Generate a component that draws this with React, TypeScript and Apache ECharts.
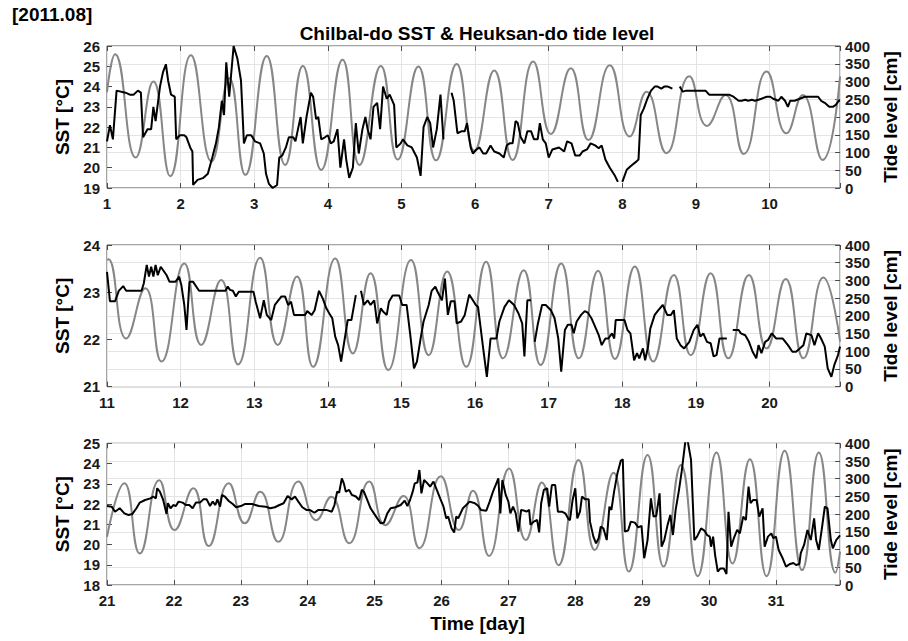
import React, { useEffect, useRef } from 'react';
import * as echarts from 'echarts';

type Pt = [number, number | null];

// ---------- axis ranges / ticks ----------
const dayMin = [1, 11, 21];
const dayMax = [10.958, 20.958, 31.958];
const sstMin = [19, 21, 18];
const sstMax = [26, 24, 25];
const tideMin = 0;
const tideMax = 400;
const tideStep = 50;

const headerText = '[2011.08]';
const titleText = 'Chilbal-do SST & Heuksan-do tide level';
const xName = 'Time [day]';
const sstName = 'SST [°C]';
const tideName = 'Tide level [cm]';

// ---------- Panel 1: days 1-11 ----------
const sst1: Pt[] = [
  [1.00, 21.3], [1.04, 22.1], [1.08, 21.4], [1.13, 23.8], [1.25, 23.7], [1.31, 23.6], [1.36, 23.6],
  [1.42, 23.8], [1.46, 23.7], [1.49, 21.5], [1.55, 21.9], [1.60, 21.9], [1.63, 23.0], [1.66, 22.3],
  [1.72, 24.0], [1.76, 24.7], [1.80, 25.1], [1.83, 24.3], [1.87, 23.6], [1.92, 23.5], [1.94, 21.4],
  [1.99, 21.6], [2.05, 21.6], [2.08, 21.5], [2.13, 21.0], [2.16, 20.8], [2.17, 19.15], [2.23, 19.4],
  [2.31, 19.5], [2.37, 19.7], [2.43, 20.5], [2.48, 21.2], [2.52, 22.0], [2.56, 23.3], [2.59, 22.6],
  [2.62, 25.2], [2.66, 23.5], [2.72, 26.0], [2.77, 25.4], [2.82, 24.3], [2.86, 21.2], [2.90, 21.6],
  [2.96, 21.6], [3.01, 21.3], [3.08, 21.2], [3.13, 20.7], [3.16, 19.7], [3.20, 19.2], [3.25, 19.0],
  [3.31, 19.15], [3.34, 20.5], [3.38, 20.6], [3.43, 21.0], [3.47, 21.5], [3.53, 21.5], [3.56, 21.3],
  [3.60, 22.0], [3.63, 22.5], [3.66, 21.2], [3.71, 22.5], [3.77, 23.7], [3.80, 23.5], [3.84, 22.4],
  [3.87, 22.5], [3.91, 21.4], [3.96, 21.5], [4.00, 21.6], [4.04, 21.2], [4.08, 21.3], [4.13, 21.9],
  [4.17, 20.0], [4.22, 21.4], [4.25, 20.4], [4.29, 19.5], [4.34, 20.0], [4.38, 22.2], [4.42, 20.7],
  [4.47, 21.9], [4.51, 22.5], [4.54, 21.9], [4.58, 21.4], [4.62, 23.0], [4.67, 23.2], [4.71, 21.9],
  [4.75, 24.0], [4.80, 23.4], [4.84, 23.6], [4.90, 23.1], [4.93, 21.0], [4.99, 21.2], [5.02, 21.4],
  [5.08, 21.1], [5.14, 21.0], [5.21, 20.5], [5.26, 19.6], [5.30, 22.0], [5.35, 22.5], [5.39, 22.2],
  [5.43, 21.0], [5.48, 21.9], [5.53, 23.6], [5.57, 21.4], [5.62, null], [5.68, 23.7], [5.71, 23.3],
  [5.76, 21.7], [5.82, 21.8], [5.86, 21.8], [5.89, 22.2], [5.94, 21.0], [5.97, 20.7], [6.02, 20.9],
  [6.06, 21.0], [6.11, 20.7], [6.15, 20.7], [6.21, 21.1], [6.26, 20.8], [6.33, 20.7], [6.39, 20.5],
  [6.43, 21.1], [6.47, 21.2], [6.51, 21.2], [6.55, 22.3], [6.58, 22.2], [6.62, 21.5], [6.67, 21.2],
  [6.71, 21.8], [6.76, 21.8], [6.80, 21.4], [6.85, 21.4], [6.88, 22.2], [6.92, 21.4], [6.96, 21.2],
  [7.00, 20.5], [7.05, 20.9], [7.14, 21.0], [7.21, 20.8], [7.25, 21.3], [7.31, 21.2], [7.36, 20.6],
  [7.42, 20.6], [7.46, 20.8], [7.52, 20.9], [7.57, 21.2], [7.63, 21.1], [7.68, 20.96], [7.72, 21.1],
  [7.77, 20.4], [7.83, 20.0], [7.90, 19.6], [7.94, 19.3], [7.97, null], [8.00, 19.3], [8.06, 19.9],
  [8.12, 20.1], [8.19, 20.3], [8.22, 20.4], [8.25, 22.6], [8.29, 22.9], [8.34, 23.4], [8.39, 23.8],
  [8.44, 24.0], [8.48, 24.0], [8.53, 23.9], [8.57, 24.0], [8.62, 24.0], [8.68, 23.9], [8.73, null],
  [8.78, 24.0], [8.82, 23.75], [8.87, 23.8], [8.93, 23.8], [9.07, 23.8], [9.13, 23.8], [9.18, 23.6],
  [9.38, 23.6], [9.45, 23.6], [9.51, 23.5], [9.58, 23.3], [9.62, 23.3], [9.67, 23.35], [9.71, 23.3],
  [9.76, 23.35], [9.80, 23.3], [9.85, 23.35], [9.89, 23.4], [9.96, 23.5], [10.01, 23.5], [10.05, 23.4],
  [10.12, 23.3], [10.16, 23.5], [10.21, 23.3], [10.25, 23.0], [10.28, 23.3], [10.34, 23.3],
  [10.41, 23.4], [10.48, 23.5], [10.52, 23.5], [10.59, 23.5], [10.66, 23.5], [10.70, 23.3],
  [10.75, 23.2], [10.81, 23.0], [10.86, 23.0], [10.90, 23.1], [10.94, 23.3], [10.958, 23.3],
];

const tide1: Pt[] = [
  [1.00, 270], [1.11, 377], [1.39, 86], [1.63, 300], [1.86, 33], [2.14, 374], [2.42, 75],
  [2.66, 309], [2.88, 37], [3.17, 372], [3.42, 65], [3.66, 344], [3.91, 51], [4.20, 361],
  [4.43, 65], [4.72, 344], [4.95, 80], [5.23, 342], [5.47, 78], [5.75, 349], [5.99, 105],
  [6.26, 331], [6.51, 79], [6.79, 356], [7.03, 152], [7.30, 337], [7.54, 135], [7.83, 346],
  [8.10, 145], [8.33, 271], [8.60, 98], [8.91, 315], [9.15, 175], [9.40, 262], [9.65, 96],
  [9.96, 328], [10.23, 154], [10.45, 262], [10.72, 79], [10.958, 314],
];

// ---------- Panel 2: days 11-21 ----------
const sst2: Pt[] = [
  [11.00, 23.43], [11.04, 22.81], [11.11, 22.81], [11.16, 23.03], [11.22, 23.13], [11.26, 23.03],
  [11.36, 23.03], [11.47, 23.03], [11.50, 23.19], [11.54, 23.58], [11.57, 23.33], [11.60, 23.54],
  [11.63, 23.33], [11.66, 23.58], [11.69, 23.36], [11.73, 23.54], [11.81, 23.36], [11.85, 23.22],
  [11.93, 23.22], [11.98, 23.33], [12.01, 23.15], [12.05, 22.73], [12.08, 22.20], [12.12, 23.22],
  [12.17, 23.22], [12.25, 23.03], [12.43, 23.03], [12.61, 23.03], [12.64, 23.12], [12.67, 23.05],
  [12.71, 23.03], [12.75, 22.91], [12.79, 23.01], [12.99, 23.01], [13.02, 22.80], [13.08, 22.45],
  [13.13, 22.83], [13.17, 22.52], [13.23, 22.41], [13.28, 22.73], [13.37, 22.91], [13.42, 22.91],
  [13.46, 22.73], [13.50, 22.80], [13.54, 22.52], [13.62, 22.52], [13.69, 22.52], [13.72, 22.60],
  [13.78, 22.52], [13.82, 22.62], [13.88, 23.03], [13.93, 22.87], [13.98, 22.66], [14.02, 22.55],
  [14.06, 22.45], [14.10, 22.06], [14.14, 21.88], [14.18, 21.53], [14.23, 22.02], [14.27, 22.41],
  [14.32, 22.41], [14.38, 22.94], [14.42, null], [14.45, 23.03], [14.49, 22.73], [14.54, 22.83],
  [14.58, 22.73], [14.63, 22.83], [14.67, 22.34], [14.72, 22.66], [14.75, 22.59], [14.80, 22.52],
  [14.83, 22.80], [14.88, 22.93], [14.97, 22.93], [15.01, 22.73], [15.07, 22.73], [15.12, 22.09],
  [15.17, 21.39], [15.21, 21.53], [15.26, 22.02], [15.30, 22.38], [15.37, 22.73], [15.41, 23.03],
  [15.46, 23.12], [15.49, 23.01], [15.55, 22.83], [15.59, 23.29], [15.63, 22.52], [15.67, 22.81],
  [15.72, 22.81], [15.75, 22.34], [15.81, 22.38], [15.86, 22.52], [15.92, 22.95], [15.97, 22.83],
  [16.01, 22.73], [16.04, 22.69], [16.11, 21.81], [16.16, 21.21], [16.21, 22.02], [16.29, 22.02],
  [16.33, 22.38], [16.40, 22.69], [16.46, 22.83], [16.53, 22.73], [16.59, 22.55], [16.64, 22.34],
  [16.67, 21.64], [16.71, 22.83], [16.76, 22.83], [16.78, null], [16.81, 21.95], [16.85, 22.31],
  [16.91, 22.73], [16.96, 22.73], [17.03, 22.62], [17.08, 22.45], [17.13, 22.02], [17.17, 21.32],
  [17.22, 22.20], [17.26, 22.31], [17.31, 22.31], [17.34, 22.13], [17.38, 22.38], [17.44, 22.52],
  [17.49, 22.60], [17.53, 22.57], [17.58, 22.45], [17.62, 22.31], [17.68, 22.09], [17.72, 21.88],
  [17.77, 22.02], [17.81, 22.02], [17.86, 22.13], [17.89, 22.02], [17.91, 22.41], [17.99, 22.41],
  [18.03, 22.41], [18.07, 22.20], [18.11, 22.13], [18.16, 21.56], [18.20, 21.71], [18.23, 21.60],
  [18.28, 21.81], [18.31, 21.56], [18.35, 21.85], [18.38, 22.23], [18.44, 22.52], [18.49, 22.62],
  [18.55, 22.73], [18.61, 22.52], [18.66, 22.52], [18.70, 22.62], [18.74, 22.02], [18.79, 21.88],
  [18.84, 21.81], [18.91, 21.95], [18.97, 22.20], [19.02, 22.31], [19.06, 22.06], [19.10, 22.13],
  [19.15, 21.95], [19.20, 21.92], [19.24, 21.64], [19.28, 21.67], [19.32, 22.02], [19.36, 22.02],
  [19.42, 22.02], [19.46, null], [19.50, 22.20], [19.58, 22.20], [19.61, 22.13], [19.67, 22.09],
  [19.72, 21.95], [19.77, 21.74], [19.82, 21.60], [19.85, 21.88], [19.89, 21.71], [19.94, 21.95],
  [19.98, 21.99], [20.03, 22.13], [20.09, 22.02], [20.18, 22.02], [20.25, 21.88], [20.31, 21.74],
  [20.36, 21.74], [20.41, 21.81], [20.46, 21.88], [20.50, 22.13], [20.57, 22.09], [20.61, 21.88],
  [20.66, 22.13], [20.70, 22.02], [20.75, 21.85], [20.79, 21.39], [20.84, 21.21], [20.88, 21.46],
  [20.93, 21.67], [20.958, 21.85],
];

const tide2: Pt[] = [
  [11.00, 358], [11.02, 360], [11.26, 136], [11.52, 278], [11.74, 71], [12.05, 348], [12.28, 118],
  [12.55, 301], [12.78, 63], [13.08, 364], [13.32, 118], [13.58, 311], [13.80, 56], [14.10, 362],
  [14.34, 94], [14.58, 320], [14.82, 47], [15.13, 358], [15.37, 89], [15.62, 325], [15.88, 56],
  [16.15, 353], [16.38, 80], [16.66, 329], [16.89, 61], [17.17, 348], [17.41, 80], [17.67, 327],
  [17.90, 78], [18.17, 339], [18.42, 71], [18.70, 315], [18.93, 89], [19.20, 320], [19.44, 80],
  [19.72, 315], [19.96, 108], [20.22, 304], [20.46, 80], [20.73, 308], [20.958, 127],
];

// ---------- Panel 3: days 21-32 ----------
const sst3: Pt[] = [
  [21.00, 21.90], [21.07, 21.87], [21.12, 21.62], [21.19, 21.79], [21.26, 21.54], [21.32, 21.46],
  [21.38, 21.51], [21.44, 21.79], [21.49, 22.07], [21.57, 22.20], [21.65, 22.28], [21.69, 22.37],
  [21.73, 22.28], [21.75, 22.78], [21.79, 22.61], [21.84, 22.20], [21.89, 21.51], [21.91, 22.04],
  [21.95, 21.79], [21.99, 21.95], [22.03, 21.90], [22.07, 22.12], [22.13, 22.07], [22.18, 21.95],
  [22.23, 21.95], [22.28, 21.79], [22.33, 22.07], [22.39, 22.07], [22.44, 22.23], [22.49, 22.23],
  [22.54, 21.90], [22.58, 22.12], [22.62, 21.95], [22.65, 22.23], [22.69, 21.87], [22.72, 22.45],
  [22.76, 22.37], [22.82, 22.15], [22.88, 22.00], [22.93, 21.84], [23.00, 21.90], [23.06, 22.00],
  [23.17, 22.00], [23.27, 21.90], [23.37, 21.87], [23.44, 21.79], [23.51, 21.84], [23.57, 21.94],
  [23.64, 22.04], [23.70, 22.40], [23.76, 22.23], [23.81, 22.37], [23.86, 22.12], [23.92, 21.84],
  [23.98, 21.71], [24.03, 21.71], [24.10, 21.57], [24.16, 21.71], [24.28, 21.71], [24.36, 21.62],
  [24.40, 21.95], [24.44, 22.61], [24.47, 22.56], [24.51, 23.27], [24.54, 23.02], [24.57, 22.61],
  [24.62, 22.70], [24.66, 22.45], [24.72, 22.37], [24.77, 22.20], [24.81, 22.70], [24.84, 22.61],
  [24.89, 22.20], [24.94, 21.79], [24.99, 21.54], [25.04, 21.29], [25.09, 21.05], [25.14, 21.08],
  [25.19, 21.54], [25.24, 21.79], [25.31, 21.84], [25.39, 21.95], [25.45, 22.17], [25.49, 21.90],
  [25.53, 22.20], [25.57, 22.61], [25.60, 23.02], [25.64, 23.06], [25.67, 23.68], [25.70, 22.53],
  [25.74, 23.19], [25.79, 23.02], [25.83, 22.86], [25.88, 23.11], [25.93, 22.70], [25.98, 22.28],
  [26.03, 21.87], [26.07, 21.29], [26.10, 21.38], [26.15, 20.80], [26.19, 20.59], [26.22, 21.38],
  [26.25, 21.30], [26.32, 21.79], [26.37, 21.95], [26.42, 22.12], [26.50, 22.04], [26.55, 21.90],
  [26.59, 21.71], [26.67, 21.67], [26.72, 22.12], [26.77, 22.61], [26.82, 23.02], [26.85, 23.27],
  [26.88, 21.54], [26.91, 23.19], [26.96, 22.45], [27.00, 22.12], [27.03, 21.54], [27.07, 21.87],
  [27.11, 21.54], [27.15, 20.64], [27.19, 21.71], [27.24, 21.67], [27.27, 21.62], [27.31, 21.71],
  [27.33, 20.97], [27.38, 21.13], [27.43, 21.21], [27.46, 20.60], [27.49, 22.04], [27.53, 22.70],
  [27.58, 22.78], [27.61, 21.87], [27.65, 22.94], [27.70, 22.94], [27.74, 21.62], [27.80, 21.62],
  [27.85, 21.54], [27.90, 21.25], [27.92, 21.21], [27.96, 22.20], [28.00, 22.78], [28.03, 21.29],
  [28.07, 21.62], [28.10, 22.37], [28.15, 22.23], [28.20, 22.23], [28.22, 21.13], [28.27, 20.39],
  [28.31, 20.06], [28.35, 20.31], [28.38, 20.88], [28.42, 20.80], [28.47, 20.22], [28.51, 21.87],
  [28.54, 21.71], [28.58, 22.61], [28.63, 23.52], [28.68, 24.14], [28.71, 24.21], [28.74, 20.64],
  [28.79, 20.69], [28.83, 21.13], [28.89, 21.08], [28.94, 20.85], [28.99, 20.92], [29.03, 19.32],
  [29.08, 20.22], [29.13, 22.28], [29.17, 21.38], [29.21, 21.41], [29.26, 22.53], [29.29, 19.89],
  [29.33, 20.22], [29.38, 20.97], [29.42, 21.46], [29.46, 20.47], [29.50, 21.71], [29.55, 22.69],
  [29.59, 23.60], [29.66, 25.50], [29.73, 24.18], [29.78, 20.22], [29.82, 20.39], [29.88, 20.80],
  [29.93, 20.69], [29.97, 20.47], [30.01, 20.39], [30.03, 19.89], [30.06, 20.39], [30.09, 19.48],
  [30.13, 18.66], [30.17, 18.82], [30.22, 18.82], [30.26, 18.54], [30.29, 21.62], [30.33, 19.89],
  [30.37, 20.31], [30.42, 20.72], [30.46, 20.55], [30.51, 21.38], [30.55, 21.21], [30.59, 22.86],
  [30.62, 22.04], [30.66, 22.20], [30.71, 22.20], [30.75, 21.38], [30.80, 21.79], [30.83, 19.89],
  [30.88, 20.39], [30.93, 20.55], [30.96, 20.31], [31.00, 20.39], [31.04, 19.73], [31.10, 19.32],
  [31.15, 18.91], [31.21, 19.04], [31.26, 19.09], [31.30, 18.99], [31.35, 19.04], [31.37, 19.57],
  [31.42, 19.98], [31.47, 20.72], [31.52, 20.22], [31.57, 21.29], [31.60, 20.22], [31.64, 19.73],
  [31.69, 20.88], [31.73, 21.87], [31.77, 21.79], [31.82, 20.22], [31.85, 19.81], [31.90, 20.22],
  [31.958, 20.45],
];

const tide3: Pt[] = [
  [21.00, 136], [21.26, 287], [21.49, 89], [21.78, 296], [22.01, 155], [22.29, 273], [22.52, 110],
  [22.82, 287], [23.06, 174], [23.29, 263], [23.56, 122], [23.86, 292], [24.13, 183], [24.35, 249],
  [24.62, 118], [24.92, 292], [25.16, 169], [25.43, 251], [25.67, 104], [25.99, 307], [26.26, 155],
  [26.47, 266], [26.71, 82], [27.01, 329], [27.26, 127], [27.50, 289], [27.75, 56], [28.05, 353],
  [28.29, 99], [28.57, 317], [28.80, 38], [29.08, 367], [29.32, 52], [29.58, 339], [29.83, 25],
  [30.11, 374], [30.35, 61], [30.61, 355], [30.86, 25], [31.13, 379], [31.39, 42], [31.64, 374],
  [31.89, 35], [31.958, 94],
];

const sstPanels = [sst1, sst2, sst3];
const tidePanels = [tide1, tide2, tide3];

// ---------- layout / style ----------
const FONT = '"Liberation Sans", Arial, Helvetica, sans-serif';
const gridLeft = 107;
const gridWidth = 741;
const gridTops = [46, 245, 443.3];
const gridHeights = [142, 141.7, 141.7];
const frameColor = '#4d4d4d';
const gridColor = '#e4e4e4';
const sstColor = '#000000';
const tideColor = '#878787';

const toSeries = (pts: Pt[]) => pts.map(([x, y]) => [x, y === null ? '-' : y]);

function buildOption(): any {
  const grid: any[] = [];
  const xAxis: any[] = [];
  const yAxis: any[] = [];
  const series: any[] = [];

  for (let i = 0; i < 3; i++) {
    grid.push({
      left: gridLeft,
      top: gridTops[i],
      width: gridWidth,
      height: gridHeights[i],
      show: true,
      borderColor: frameColor,
      borderWidth: 1,
      backgroundColor: '#ffffff',
      containLabel: false,
    });
    // bottom axis
    xAxis.push({
      type: 'value',
      gridIndex: i,
      min: dayMin[i],
      max: dayMax[i],
      interval: 1,
      axisLine: { show: false },
      axisTick: { show: true, inside: true, length: 5, lineStyle: { color: frameColor } },
      axisLabel: {
        margin: 8,
        color: '#1a1a1a',
        fontWeight: 'bold',
        fontSize: 15,
        fontFamily: FONT,
        formatter: (v: number) => (Math.abs(v - Math.round(v)) < 1e-6 ? String(Math.round(v)) : ''),
      },
      splitLine: { show: true, lineStyle: { color: gridColor, width: 1 } },
    });
    // top axis (ticks only)
    xAxis.push({
      type: 'value',
      gridIndex: i,
      position: 'top',
      min: dayMin[i],
      max: dayMax[i],
      interval: 1,
      axisLine: { show: false },
      axisTick: { show: true, inside: true, length: 5, lineStyle: { color: frameColor } },
      axisLabel: { show: false },
      splitLine: { show: false },
    });
    // left SST axis
    yAxis.push({
      type: 'value',
      gridIndex: i,
      position: 'left',
      min: sstMin[i],
      max: sstMax[i],
      interval: 1,
      name: sstName,
      nameLocation: 'middle',
      nameGap: 27,
      nameTextStyle: { fontWeight: 'bold', fontSize: 19, fontFamily: FONT, color: '#000' },
      axisLine: { show: false },
      axisTick: { show: true, inside: true, length: 5, lineStyle: { color: frameColor } },
      axisLabel: { margin: 7, color: '#1a1a1a', fontWeight: 'bold', fontSize: 15, fontFamily: FONT },
      splitLine: { show: false },
    });
    // right tide axis
    yAxis.push({
      type: 'value',
      gridIndex: i,
      position: 'right',
      min: tideMin,
      max: tideMax,
      interval: tideStep,
      name: tideName,
      nameLocation: 'middle',
      nameGap: 40,
      nameTextStyle: { fontWeight: 'bold', fontSize: 19, fontFamily: FONT, color: '#000' },
      axisLine: { show: false },
      axisTick: { show: true, inside: true, length: 5, lineStyle: { color: frameColor } },
      axisLabel: { margin: 5, color: '#1a1a1a', fontWeight: 'bold', fontSize: 15, fontFamily: FONT },
      splitLine: { show: true, lineStyle: { color: gridColor, width: 1 } },
    });

    series.push({
      type: 'line',
      name: 'tide' + (i + 1),
      xAxisIndex: 2 * i,
      yAxisIndex: 2 * i + 1,
      data: toSeries(tidePanels[i]),
      smooth: 0.5,
      showSymbol: false,
      symbol: 'none',
      lineStyle: { color: tideColor, width: 2 },
      z: 2,
    });
    series.push({
      type: 'line',
      name: 'sst' + (i + 1),
      xAxisIndex: 2 * i,
      yAxisIndex: 2 * i,
      data: toSeries(sstPanels[i]),
      showSymbol: false,
      symbol: 'none',
      connectNulls: false,
      lineStyle: { color: sstColor, width: 2 },
      z: 3,
    });
  }

  return {
    animation: false,
    backgroundColor: '#ffffff',
    grid,
    xAxis,
    yAxis,
    series,
    graphic: [
      {
        type: 'text',
        left: 12,
        top: 5,
        style: { text: headerText, font: `bold 19px ${FONT}`, fill: '#000' },
      },
      {
        type: 'text',
        x: 477,
        y: 33,
        style: {
          text: titleText,
          font: `bold 19px ${FONT}`,
          fill: '#000',
          textAlign: 'center',
          textVerticalAlign: 'middle',
        },
      },
      {
        type: 'text',
        x: 477.5,
        y: 623,
        style: {
          text: xName,
          font: `bold 19px ${FONT}`,
          fill: '#000',
          textAlign: 'center',
          textVerticalAlign: 'middle',
        },
      },
    ],
  };
}

export default function App() {
  const ref = useRef<HTMLDivElement>(null);
  useEffect(() => {
    if (!ref.current) return;
    const chart = echarts.init(ref.current, undefined, { renderer: 'svg' });
    chart.setOption(buildOption());
    return () => chart.dispose();
  }, []);
  return (
    <div
      ref={ref}
      style={{ position: 'fixed', left: 0, top: 0, width: 908, height: 641, background: '#fff' }}
    />
  );
}
